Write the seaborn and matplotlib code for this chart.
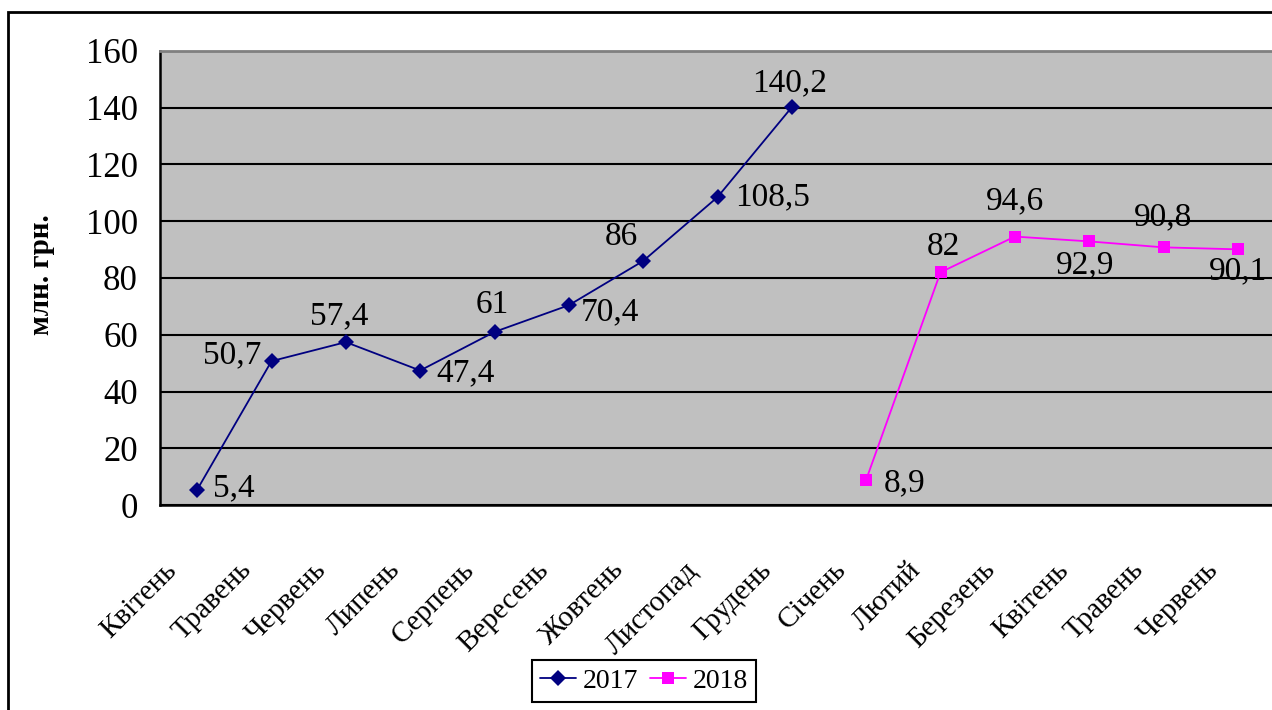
import pandas as pd
import numpy as np
import seaborn as sns
import matplotlib.pyplot as plt
import matplotlib.transforms as mtransforms
from matplotlib.patches import Rectangle

months = ["Квітень", "Травень", "Червень", "Липень", "Серпень", "Вересень",
          "Жовтень", "Листопад", "Грудень", "Січень", "Лютий", "Березень",
          "Квітень", "Травень", "Червень"]
values_2017 = [5.4, 50.7, 57.4, 47.4, 61, 70.4, 86, 108.5, 140.2]
values_2018 = [8.9, 82, 94.6, 92.9, 90.8, 90.1]
yticks = [0, 20, 40, 60, 80, 100, 120, 140, 160]

# label offsets in pixels (dx, dy, ha)
offs_2017 = [(16, 2, "left"), (-10, 6, "right"), (-7, 26, "center"), (16, -3, "left"),
             (-2, 27, "center"), (12, -7, "left"), (-22, 24, "center"), (18, 0, "left"),
             (-2, 24, "center")]
offs_2018 = [(18, -3, "left"), (3, 26, "center"), (0, 36, "center"), (-4, -24, "center"),
             (-1, 30, "center"), (0, -22, "center")]

pos_2017 = list(range(len(values_2017)))
pos_2018 = list(range(9, 9 + len(values_2018)))
df = pd.DataFrame({
    "pos": pos_2017 + pos_2018,
    "value": values_2017 + values_2018,
    "year": ["2017"] * len(values_2017) + ["2018"] * len(values_2018),
})

sns.set_style("white")
plt.rcParams["font.family"] = ["Liberation Serif", "DejaVu Serif"]
plt.rcParams["text.color"] = "black"
plt.rcParams["axes.labelcolor"] = "black"
plt.rcParams["xtick.color"] = "black"
plt.rcParams["ytick.color"] = "black"

fig = plt.figure(figsize=(12.72, 7.10), dpi=100)
ax = fig.add_axes([160 / 1272, 205 / 710, 1115 / 1272, 454 / 710])
ax.set_facecolor("#C0C0C0")

palette = {"2017": "#000080", "2018": "#FF00FF"}
sns.lineplot(data=df, x="pos", y="value", hue="year", style="year",
             markers={"2017": "D", "2018": "s"}, dashes=False, palette=palette,
             markersize=8, linewidth=1.3, markeredgewidth=0, ax=ax, sort=False)

ax.set_xlim(-0.5, 14.5)
ax.set_ylim(0, 160)
ax.set_yticks(yticks)
ax.yaxis.grid(True, color="black", linewidth=1.5)
ax.set_axisbelow(True)

ax.set_xticks(range(len(months)))
ax.set_xticklabels(months, rotation=45, ha="right", va="center",
                   rotation_mode="anchor", fontsize=21)
ax.set_xticks(np.arange(-0.5, 15, 1), minor=True)
ax.tick_params(axis="x", which="major", length=0, pad=44)
ax.tick_params(axis="x", which="minor", length=8, width=1.5, direction="out", color="black")
ax.tick_params(axis="y", length=8, width=1.5, direction="out", color="black", labelsize=25, pad=8)
shift = mtransforms.ScaledTranslation(-24 / 100, 0, fig.dpi_scale_trans)
for lab in ax.get_xticklabels():
    lab.set_transform(lab.get_transform() + shift)

for sp in ["left", "bottom"]:
    ax.spines[sp].set_color("black")
    ax.spines[sp].set_linewidth(1.8)
ax.spines["top"].set_color("#808080")
ax.spines["top"].set_linewidth(2)
ax.spines["right"].set_visible(False)

ax.set_xlabel("")
ax.set_ylabel("млн. грн.", fontsize=21, fontweight="bold")
ax.yaxis.set_label_coords(-0.094, 0.507)

for p, v, (dx, dy, ha) in zip(pos_2017, values_2017, offs_2017):
    ax.annotate(f"{v:g}".replace(".", ","), (p, v), xytext=(dx * 0.72, dy * 0.72),
                textcoords="offset points", ha=ha, va="center", fontsize=24)
for p, v, (dx, dy, ha) in zip(pos_2018, values_2018, offs_2018):
    ax.annotate(f"{v:g}".replace(".", ","), (p, v), xytext=(dx * 0.72, dy * 0.72),
                textcoords="offset points", ha=ha, va="center", fontsize=24)

ax.legend(loc="center", bbox_to_anchor=(644 / 1272, 29 / 710),
          bbox_transform=fig.transFigure, ncol=2, frameon=True, fancybox=False,
          edgecolor="black", fontsize=20, handlelength=1.3, columnspacing=0.4,
          handletextpad=0.25, borderpad=0.3, borderaxespad=0, framealpha=1)
ax.get_legend().get_frame().set_linewidth(1.5)
ax.get_legend().set_title(None)

fig.add_artist(Rectangle((8 / 1272, -0.5), 2.0, 0.5 + (1 - 12 / 710), fill=False,
                         edgecolor="black", linewidth=2, transform=fig.transFigure))

fig.savefig("out.png", dpi=100)
